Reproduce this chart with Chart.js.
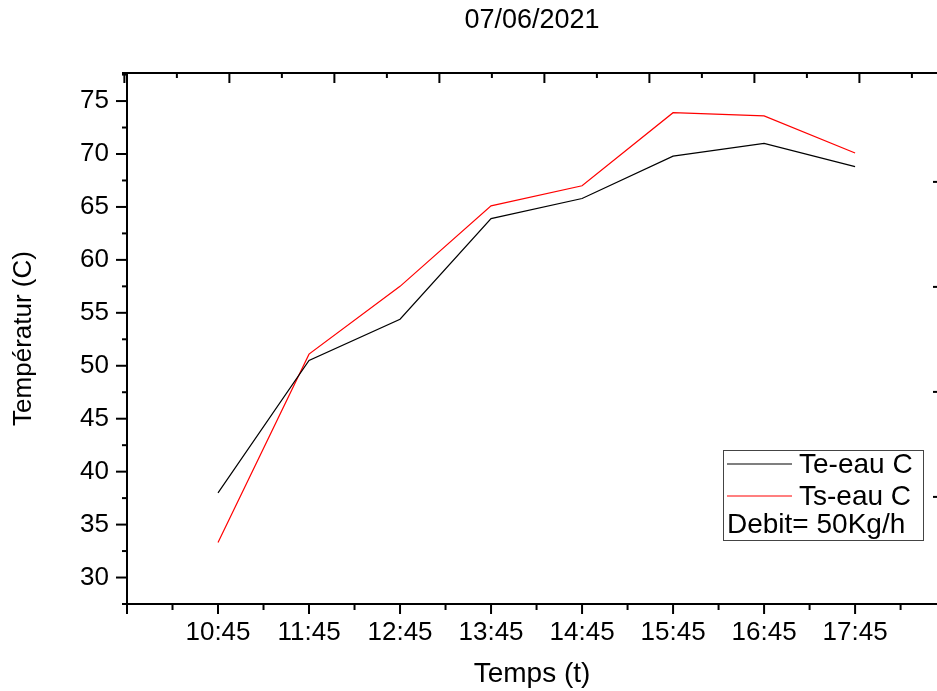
<!DOCTYPE html>
<html>
<head>
<meta charset="utf-8">
<title>07/06/2021</title>
<script src="https://cdn.jsdelivr.net/npm/chart.js@4"></script>
<style>
  html, body { margin: 0; padding: 0; background: #fff; }
  canvas { display: block; }
</style>
</head>
<body>
<canvas id="chartTemp" width="937" height="691"></canvas>
<script>
// données
const times = ['10:45', '11:45', '12:45', '13:45', '14:45', '15:45', '16:45', '17:45'];
const teEau = [38.0, 50.5, 54.4, 63.9, 65.8, 69.8, 71.0, 68.8];
const tsEau = [33.3, 51.1, 57.5, 65.1, 67.0, 73.9, 73.6, 70.1];
const yTicks = [30, 35, 40, 45, 50, 55, 60, 65, 70, 75];
const seriesNames = ['Te-eau C', 'Ts-eau C'];
const noteText = 'Debit= 50Kg/h';

const FONT = "'Liberation Sans', Arial, sans-serif";

function seg(ctx, x1, y1, x2, y2) {
  ctx.beginPath();
  ctx.moveTo(x1, y1);
  ctx.lineTo(x2, y2);
  ctx.stroke();
}

// cadre façon Origin : axes, graduations majeures/mineures, légende
const frame = {
  id: 'frame',
  afterDatasetsDraw(chart) {
    const { ctx, chartArea: a, scales } = chart;
    const { x, y, x2, y2 } = scales;
    ctx.save();
    ctx.strokeStyle = '#000';
    ctx.lineWidth = 2;
    seg(ctx, a.left, a.top - 1, a.left, a.bottom + 1);
    seg(ctx, a.left - 1, a.bottom, a.right, a.bottom);
    seg(ctx, a.left - 5, a.top, a.right, a.top);

    // bas (vers l'extérieur)
    for (let k = 0; ; k++) {
      const v = x.min + k * 0.5;
      if (v > x.max) break;
      const px = x.getPixelForValue(v);
      seg(ctx, px, a.bottom, px, a.bottom + (k % 2 === 0 ? 10 : 6));
    }
    // gauche (vers l'extérieur)
    for (let k = 0; ; k++) {
      const v = 27.5 + k * 2.5;
      if (v > y.max) break;
      const py = y.getPixelForValue(v);
      seg(ctx, a.left, py, a.left - (k % 2 === 1 ? 11 : 5), py);
    }
    // haut (vers l'intérieur)
    for (let k = 0; ; k++) {
      const v = k * 0.5;
      if (v > x2.max) break;
      const px = x2.getPixelForValue(v);
      seg(ctx, px, a.top, px, a.top + (k % 2 === 0 ? 10 : 5));
    }
    // droite : bouts de graduations visibles au bord
    for (let v = 1; v <= 4; v++) {
      const py = y2.getPixelForValue(v);
      seg(ctx, a.right - 4, py, a.right, py);
    }

    // légende
    const bx = a.right - 214, by = a.top + 377, bw = 200, bh = 90;
    ctx.lineWidth = 1;
    ctx.strokeStyle = '#444';
    ctx.strokeRect(bx + 0.5, by + 0.5, bw, bh);
    ctx.font = `28px ${FONT}`;
    ctx.fillStyle = '#000';
    ctx.textBaseline = 'middle';
    ctx.textAlign = 'left';
    chart.data.datasets.forEach((ds, i) => {
      const ly = by + 14 + i * 32;
      ctx.strokeStyle = ds.borderColor;
      ctx.lineWidth = 1.2;
      seg(ctx, bx + 4, ly, bx + 69, ly);
      ctx.fillText(ds.label, bx + 76, ly + 1);
    });
    ctx.fillText(noteText, bx + 4, by + 75);
    ctx.restore();
  }
};

const tickFont = { family: FONT, size: 26 };

new Chart(document.getElementById('chartTemp'), {
  type: 'line',
  data: {
    datasets: [
      {
        label: seriesNames[0],
        data: teEau.map((v, i) => ({ x: i, y: v })),
        borderColor: '#000000',
        borderWidth: 1.2,
        pointRadius: 0,
        tension: 0,
        fill: false
      },
      {
        label: seriesNames[1],
        data: tsEau.map((v, i) => ({ x: i, y: v })),
        borderColor: '#ff0000',
        borderWidth: 1.2,
        pointRadius: 0,
        tension: 0,
        fill: false
      }
    ]
  },
  options: {
    responsive: false,
    devicePixelRatio: 1,
    animation: false,
    layout: { padding: 0 },
    scales: {
      x: {
        type: 'linear',
        position: 'bottom',
        min: -1,
        max: 7.9,
        grid: { display: false, drawTicks: false },
        border: { display: false },
        afterBuildTicks: s => { s.ticks = times.map((t, i) => ({ value: i })); },
        ticks: {
          callback: v => times[v] ?? '',
          color: '#000',
          font: tickFont,
          padding: 13,
          maxRotation: 0,
          autoSkip: false
        },
        title: {
          display: true,
          text: 'Temps (t)',
          color: '#000',
          font: { family: FONT, size: 28 },
          padding: { top: 0, bottom: 0 }
        },
        afterFit: s => { s.height = 87; }
      },
      y: {
        type: 'linear',
        position: 'left',
        min: 27.5,
        max: 77.65,
        grid: { display: false, drawTicks: false },
        border: { display: false },
        afterBuildTicks: s => { s.ticks = yTicks.map(v => ({ value: v })); },
        ticks: { color: '#000', font: tickFont, padding: 18 },
        title: {
          display: true,
          text: 'Températur (C)',
          color: '#000',
          font: { family: FONT, size: 26 },
          padding: { top: 8, bottom: 0 }
        },
        afterFit: s => { s.width = 127; }
      },
      x2: { type: 'linear', position: 'top', display: false, min: 0.025, max: 7.739 },
      y2: { type: 'linear', position: 'right', display: false, min: -0.02, max: 5.037 }
    },
    plugins: {
      legend: { display: false },
      tooltip: { enabled: false },
      title: {
        display: true,
        text: '07/06/2021',
        fullSize: false,
        color: '#000',
        font: { family: FONT, size: 27, weight: 'normal' },
        padding: { top: 4, bottom: 36.6 }
      }
    }
  },
  plugins: [frame]
});
</script>
</body>
</html>
